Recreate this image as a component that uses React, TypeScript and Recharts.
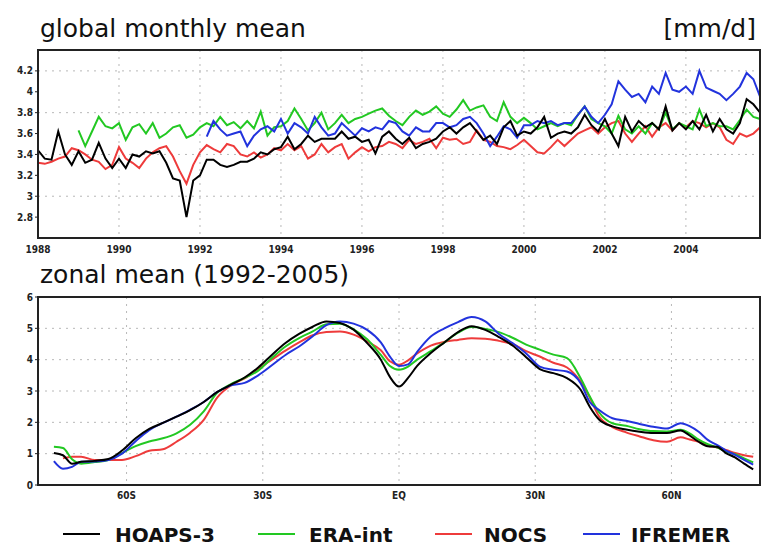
import React from "react";
import { LineChart, Line, XAxis, YAxis, CartesianGrid } from "recharts";

// global monthly mean, sampled every two months from Jan 1988
const YEAR0 = 1988;
const STEP = 1 / 6;

const HOAPS_MONTHLY = [
  3.44, 3.36, 3.35, 3.62, 3.4, 3.3, 3.43, 3.32, 3.35, 3.51,
  3.36, 3.27, 3.36, 3.27, 3.4, 3.38, 3.43, 3.41, 3.43, 3.32,
  3.17, 3.15, 2.8, 3.15, 3.2, 3.35, 3.35, 3.3, 3.28, 3.3,
  3.33, 3.33, 3.36, 3.42, 3.4, 3.45, 3.47, 3.57, 3.45, 3.5,
  3.58, 3.52, 3.55, 3.55, 3.55, 3.62, 3.55, 3.57, 3.52, 3.54,
  3.41, 3.57, 3.62, 3.55, 3.5, 3.56, 3.46, 3.5, 3.52, 3.55,
  3.62, 3.66, 3.6, 3.66, 3.7, 3.62, 3.54, 3.58, 3.5, 3.66,
  3.72, 3.58, 3.62, 3.6, 3.66, 3.76, 3.56, 3.6, 3.62, 3.6,
  3.66, 3.78, 3.68, 3.62, 3.74, 3.6, 3.48, 3.76, 3.62, 3.72,
  3.66, 3.7, 3.64, 3.86, 3.63, 3.7, 3.64, 3.72, 3.64, 3.78,
  3.62, 3.74, 3.64, 3.6, 3.7, 3.93, 3.88, 3.8,
];

const NOCS_MONTHLY = [
  3.32, 3.31, 3.33, 3.36, 3.38, 3.46, 3.44, 3.4, 3.35, 3.33,
  3.26, 3.3, 3.47, 3.36, 3.32, 3.27, 3.36, 3.42, 3.46, 3.48,
  3.38, 3.24, 3.12, 3.3, 3.42, 3.49, 3.45, 3.42, 3.5, 3.48,
  3.4, 3.38, 3.42, 3.37, 3.4, 3.46, 3.44, 3.5, 3.44, 3.48,
  3.36, 3.4, 3.5, 3.42, 3.47, 3.5, 3.36, 3.42, 3.47, 3.43,
  3.47, 3.48, 3.52, 3.5, 3.46, 3.54, 3.5, 3.52, 3.55, 3.46,
  3.56, 3.54, 3.55, 3.5, 3.52, 3.63, 3.54, 3.52, 3.48, 3.47,
  3.45, 3.49, 3.54, 3.48, 3.42, 3.41, 3.47, 3.54, 3.48, 3.54,
  3.6, 3.63, 3.66, 3.6, 3.66, 3.7, 3.72, 3.6, 3.52, 3.6,
  3.67, 3.57, 3.66, 3.7, 3.63, 3.7, 3.66, 3.72, 3.7, 3.66,
  3.7, 3.66, 3.54, 3.5, 3.6, 3.57, 3.6, 3.66,
];

// ERA-int starts Jan 1989
const ERA_OFFSET = 6;
const ERA_MONTHLY = [
  3.63, 3.48, 3.62, 3.76, 3.67, 3.65, 3.7, 3.54, 3.66, 3.69,
  3.6, 3.7, 3.56, 3.6, 3.66, 3.68, 3.56, 3.59, 3.66, 3.7,
  3.67, 3.76, 3.68, 3.71, 3.65, 3.72, 3.65, 3.81, 3.58, 3.66,
  3.67, 3.72, 3.84, 3.74, 3.63, 3.7, 3.8, 3.64, 3.7, 3.78,
  3.7, 3.74, 3.76, 3.79, 3.82, 3.84, 3.77, 3.72, 3.68, 3.76,
  3.82, 3.78, 3.81, 3.86, 3.79, 3.76, 3.83, 3.92, 3.82, 3.85,
  3.87, 3.76, 3.72, 3.9, 3.76, 3.7, 3.75, 3.7, 3.64, 3.67,
  3.7, 3.67, 3.7, 3.68, 3.78, 3.86, 3.74, 3.7, 3.67, 3.6,
  3.77, 3.64, 3.6, 3.67, 3.6, 3.7, 3.64, 3.8, 3.64, 3.7,
  3.67, 3.64, 3.83, 3.67, 3.7, 3.67, 3.67, 3.64, 3.73, 3.83, 3.76, 3.74,
];

// IFREMER starts Mar 1992
const IFREMER_OFFSET = 25;
const IFREMER_MONTHLY = [
  3.57, 3.72, 3.64, 3.58, 3.6, 3.62, 3.48, 3.58, 3.64, 3.67,
  3.62, 3.74, 3.6, 3.7, 3.66, 3.6, 3.76, 3.66, 3.58, 3.6,
  3.7, 3.64, 3.58, 3.65, 3.62, 3.66, 3.64, 3.72, 3.7, 3.62,
  3.58, 3.66, 3.62, 3.62, 3.7, 3.7, 3.66, 3.68, 3.74, 3.76,
  3.7, 3.6, 3.48, 3.57, 3.67, 3.64, 3.56, 3.68, 3.68, 3.72,
  3.7, 3.72, 3.68, 3.7, 3.7, 3.78, 3.86, 3.76, 3.7, 3.78,
  3.88, 4.1, 4.02, 3.95, 3.98, 3.9, 4.05, 3.98, 4.18, 4.02,
  4.0, 4.05, 3.98, 4.2, 4.04, 4.01, 3.98, 3.92, 3.98, 4.05, 4.18, 4.12, 3.95,
];

const YEAR_TICKS = [1988, 1990, 1992, 1994, 1996, 1998, 2000, 2002, 2004];
const MONTHLY_TICKS = [2.8, 3, 3.2, 3.4, 3.6, 3.8, 4, 4.2];

// zonal mean 1992-2005
const LATS = [
  -76, -74, -72, -70, -67, -64, -61, -58, -55, -52, -49, -46, -43, -40, -37,
  -34, -31, -28, -25, -22, -19, -16, -13, -10, -7, -4, -2, 0, 2, 4, 7, 10, 13,
  16, 19, 22, 25, 28, 31, 34, 37, 40, 42, 44, 47, 50, 53, 56, 59, 62, 64, 66,
  68, 70, 72, 74, 76, 78,
];

const HOAPS_ZONAL = [
  1.02, 0.95, 0.68, 0.74, 0.77, 0.83, 1.1, 1.49, 1.79, 1.98, 2.18, 2.39, 2.65, 2.97, 3.2,
  3.43, 3.75, 4.15, 4.53, 4.82, 5.05, 5.22, 5.17, 4.96, 4.53, 4.0, 3.45, 3.14, 3.42, 3.8, 4.21, 4.55, 4.88,
  5.07, 4.95, 4.72, 4.45, 4.08, 3.7, 3.57, 3.41, 3.04, 2.5, 2.1, 1.87, 1.77, 1.7, 1.66, 1.66, 1.74, 1.58, 1.38,
  1.24, 1.22, 1.02, 0.88, 0.68, 0.5,
];

const ERA_ZONAL = [
  1.22, 1.18, 0.82, 0.68, 0.73, 0.8, 1.02, 1.24, 1.39, 1.49, 1.65, 1.92, 2.35, 2.95, 3.22,
  3.42, 3.65, 4.05, 4.42, 4.69, 4.9, 5.13, 5.15, 4.97, 4.65, 4.15, 3.8, 3.68, 3.78, 4.0, 4.27, 4.55, 4.86,
  5.04, 4.98, 4.88, 4.7, 4.48, 4.32, 4.16, 4.05, 3.41, 2.83, 2.33, 1.97, 1.89, 1.78, 1.72, 1.71, 1.76, 1.65, 1.45,
  1.3, 1.2, 1.07, 0.98, 0.85, 0.72,
];

const NOCS_ZONAL = [
  null, 0.85, 0.9, 0.9, 0.8, 0.8, 0.8, 0.92, 1.09, 1.14, 1.38, 1.67, 2.08, 2.8, 3.18,
  3.4, 3.7, 4.0, 4.29, 4.55, 4.78, 4.88, 4.9, 4.8, 4.58, 4.3, 3.95, 3.84, 3.98, 4.2, 4.45, 4.57, 4.63,
  4.68, 4.67, 4.6, 4.5, 4.27, 4.1, 3.9, 3.75, 3.3, 2.8, 2.2, 1.85, 1.68, 1.55, 1.43, 1.38, 1.52, 1.45, 1.38,
  1.25, 1.2, 1.12, 1.02, 0.95, 0.9,
];

const IFREMER_ZONAL = [
  0.76, 0.52, 0.58, 0.74, 0.75, 0.8, 1.0, 1.4, 1.75, 1.98, 2.18, 2.4, 2.65, 2.97, 3.18,
  3.26, 3.5, 3.82, 4.15, 4.42, 4.75, 5.1, 5.22, 5.15, 4.95, 4.55, 4.1, 3.8, 3.85, 4.25, 4.74, 5.0, 5.2,
  5.36, 5.22, 4.82, 4.53, 4.2, 3.78, 3.68, 3.62, 3.25, 2.65, 2.4, 2.13, 2.05, 1.95, 1.86, 1.8, 1.97, 1.88, 1.7,
  1.44, 1.28, 1.1, 0.96, 0.8, 0.65,
];

const LAT_TICKS = [-60, -30, 0, 30, 60];
const LAT_LABELS: Record<number, string> = { [-60]: "60S", [-30]: "30S", 0: "EQ", 30: "30N", 60: "60N" };
const ZONAL_TICKS = [0, 1, 2, 3, 4, 5, 6];

const SERIES = [
  { key: "hoaps", name: "HOAPS-3", color: "#000000" },
  { key: "era", name: "ERA-int", color: "#22c822" },
  { key: "nocs", name: "NOCS", color: "#ee3b3b" },
  { key: "ifremer", name: "IFREMER", color: "#2233dd" },
];
const DRAW_ORDER = ["nocs", "era", "ifremer", "hoaps"];

const monthlyRows = HOAPS_MONTHLY.map((v, i) => ({
  year: YEAR0 + i * STEP,
  hoaps: v,
  nocs: NOCS_MONTHLY[i],
  era: i >= ERA_OFFSET ? ERA_MONTHLY[i - ERA_OFFSET] : null,
  ifremer: i >= IFREMER_OFFSET ? IFREMER_MONTHLY[i - IFREMER_OFFSET] : null,
}));

const zonalRows = LATS.map((lat, i) => ({
  lat,
  hoaps: HOAPS_ZONAL[i],
  era: ERA_ZONAL[i],
  nocs: NOCS_ZONAL[i],
  ifremer: IFREMER_ZONAL[i],
}));

const tickFont = {
  fill: "#222",
  fontSize: 10,
  fontWeight: 700,
  fontFamily: "'Liberation Sans Narrow', 'DejaVu Sans Condensed', sans-serif",
};

const colorOf = (k: string) => SERIES.find((s) => s.key === k)!.color;

export default function App() {
  return (
    <div style={{ position: "absolute", left: 0, top: 0, width: 762, height: 547, background: "#fff" }}>
      <div style={{ position: "absolute", left: 0, top: 0 }}>
        <LineChart width={762} height={262} data={monthlyRows} margin={{ top: 50, right: 2, left: 0, bottom: 0 }}>
          <CartesianGrid stroke="#b8b8b8" strokeDasharray="2 5" />
          <XAxis
            dataKey="year"
            type="number"
            domain={[1988, 2005.83]}
            ticks={YEAR_TICKS}
            allowDataOverflow
            height={24}
            axisLine={false}
            tickLine={false}
            tickSize={6}
            tickMargin={2}
            tick={tickFont}
          />
          <YAxis
            type="number"
            domain={[2.6, 4.4]}
            ticks={MONTHLY_TICKS}
            allowDataOverflow
            width={38}
            axisLine={false}
            tickLine={{ stroke: "#222" }}
            tickSize={3}
            tickMargin={2}
            tick={tickFont}
          />
          {DRAW_ORDER.map((k) => (
            <Line
              key={k}
              dataKey={k}
              type="linear"
              stroke={colorOf(k)}
              strokeWidth={2}
              dot={false}
              isAnimationActive={false}
            />
          ))}
        </LineChart>
      </div>
      <div style={{ position: "absolute", left: 0, top: 277 }}>
        <LineChart width={762} height={228} data={zonalRows} margin={{ top: 20, right: 2, left: 0, bottom: 0 }}>
          <CartesianGrid stroke="#b8b8b8" strokeDasharray="2 5" />
          <XAxis
            dataKey="lat"
            type="number"
            domain={[-79.5, 79.5]}
            ticks={LAT_TICKS}
            tickFormatter={(v: number) => LAT_LABELS[v]}
            allowDataOverflow
            height={20}
            axisLine={false}
            tickLine={false}
            tickSize={5}
            tickMargin={2}
            tick={tickFont}
          />
          <YAxis
            type="number"
            domain={[0, 6]}
            ticks={ZONAL_TICKS}
            width={38}
            axisLine={false}
            tickLine={{ stroke: "#222" }}
            tickSize={3}
            tickMargin={2}
            tick={tickFont}
          />
          {DRAW_ORDER.map((k) => (
            <Line
              key={k}
              dataKey={k}
              type="monotone"
              stroke={colorOf(k)}
              strokeWidth={2}
              dot={false}
              isAnimationActive={false}
            />
          ))}
        </LineChart>
      </div>
      <svg width={762} height={547} style={{ position: "absolute", left: 0, top: 0, pointerEvents: "none" }}>
        <g fontFamily="'DejaVu Sans', sans-serif" fill="#111">
          <text x={40} y={37} fontSize={25}>global monthly mean</text>
          <text x={756} y={37} fontSize={25} textAnchor="end">[mm/d]</text>
          <text x={40} y={283} fontSize={25}>zonal mean (1992-2005)</text>
        </g>
        <rect x={38} y={50} width={722} height={188} fill="none" stroke="#222" strokeWidth={2} />
        <rect x={38} y={297} width={722} height={188} fill="none" stroke="#222" strokeWidth={2} />
        <g fontFamily="'DejaVu Sans', sans-serif" fontWeight={700} fontSize={20} fill="#111">
          {SERIES.map((s, i) => {
            const lineX = [63, 258, 435, 583][i];
            const textX = [115, 309, 484, 631][i];
            return (
              <g key={s.key}>
                <line x1={lineX} x2={lineX + 37} y1={534} y2={534} stroke={s.color} strokeWidth={2} />
                <text x={textX} y={542}>{s.name}</text>
              </g>
            );
          })}
        </g>
      </svg>
    </div>
  );
}
